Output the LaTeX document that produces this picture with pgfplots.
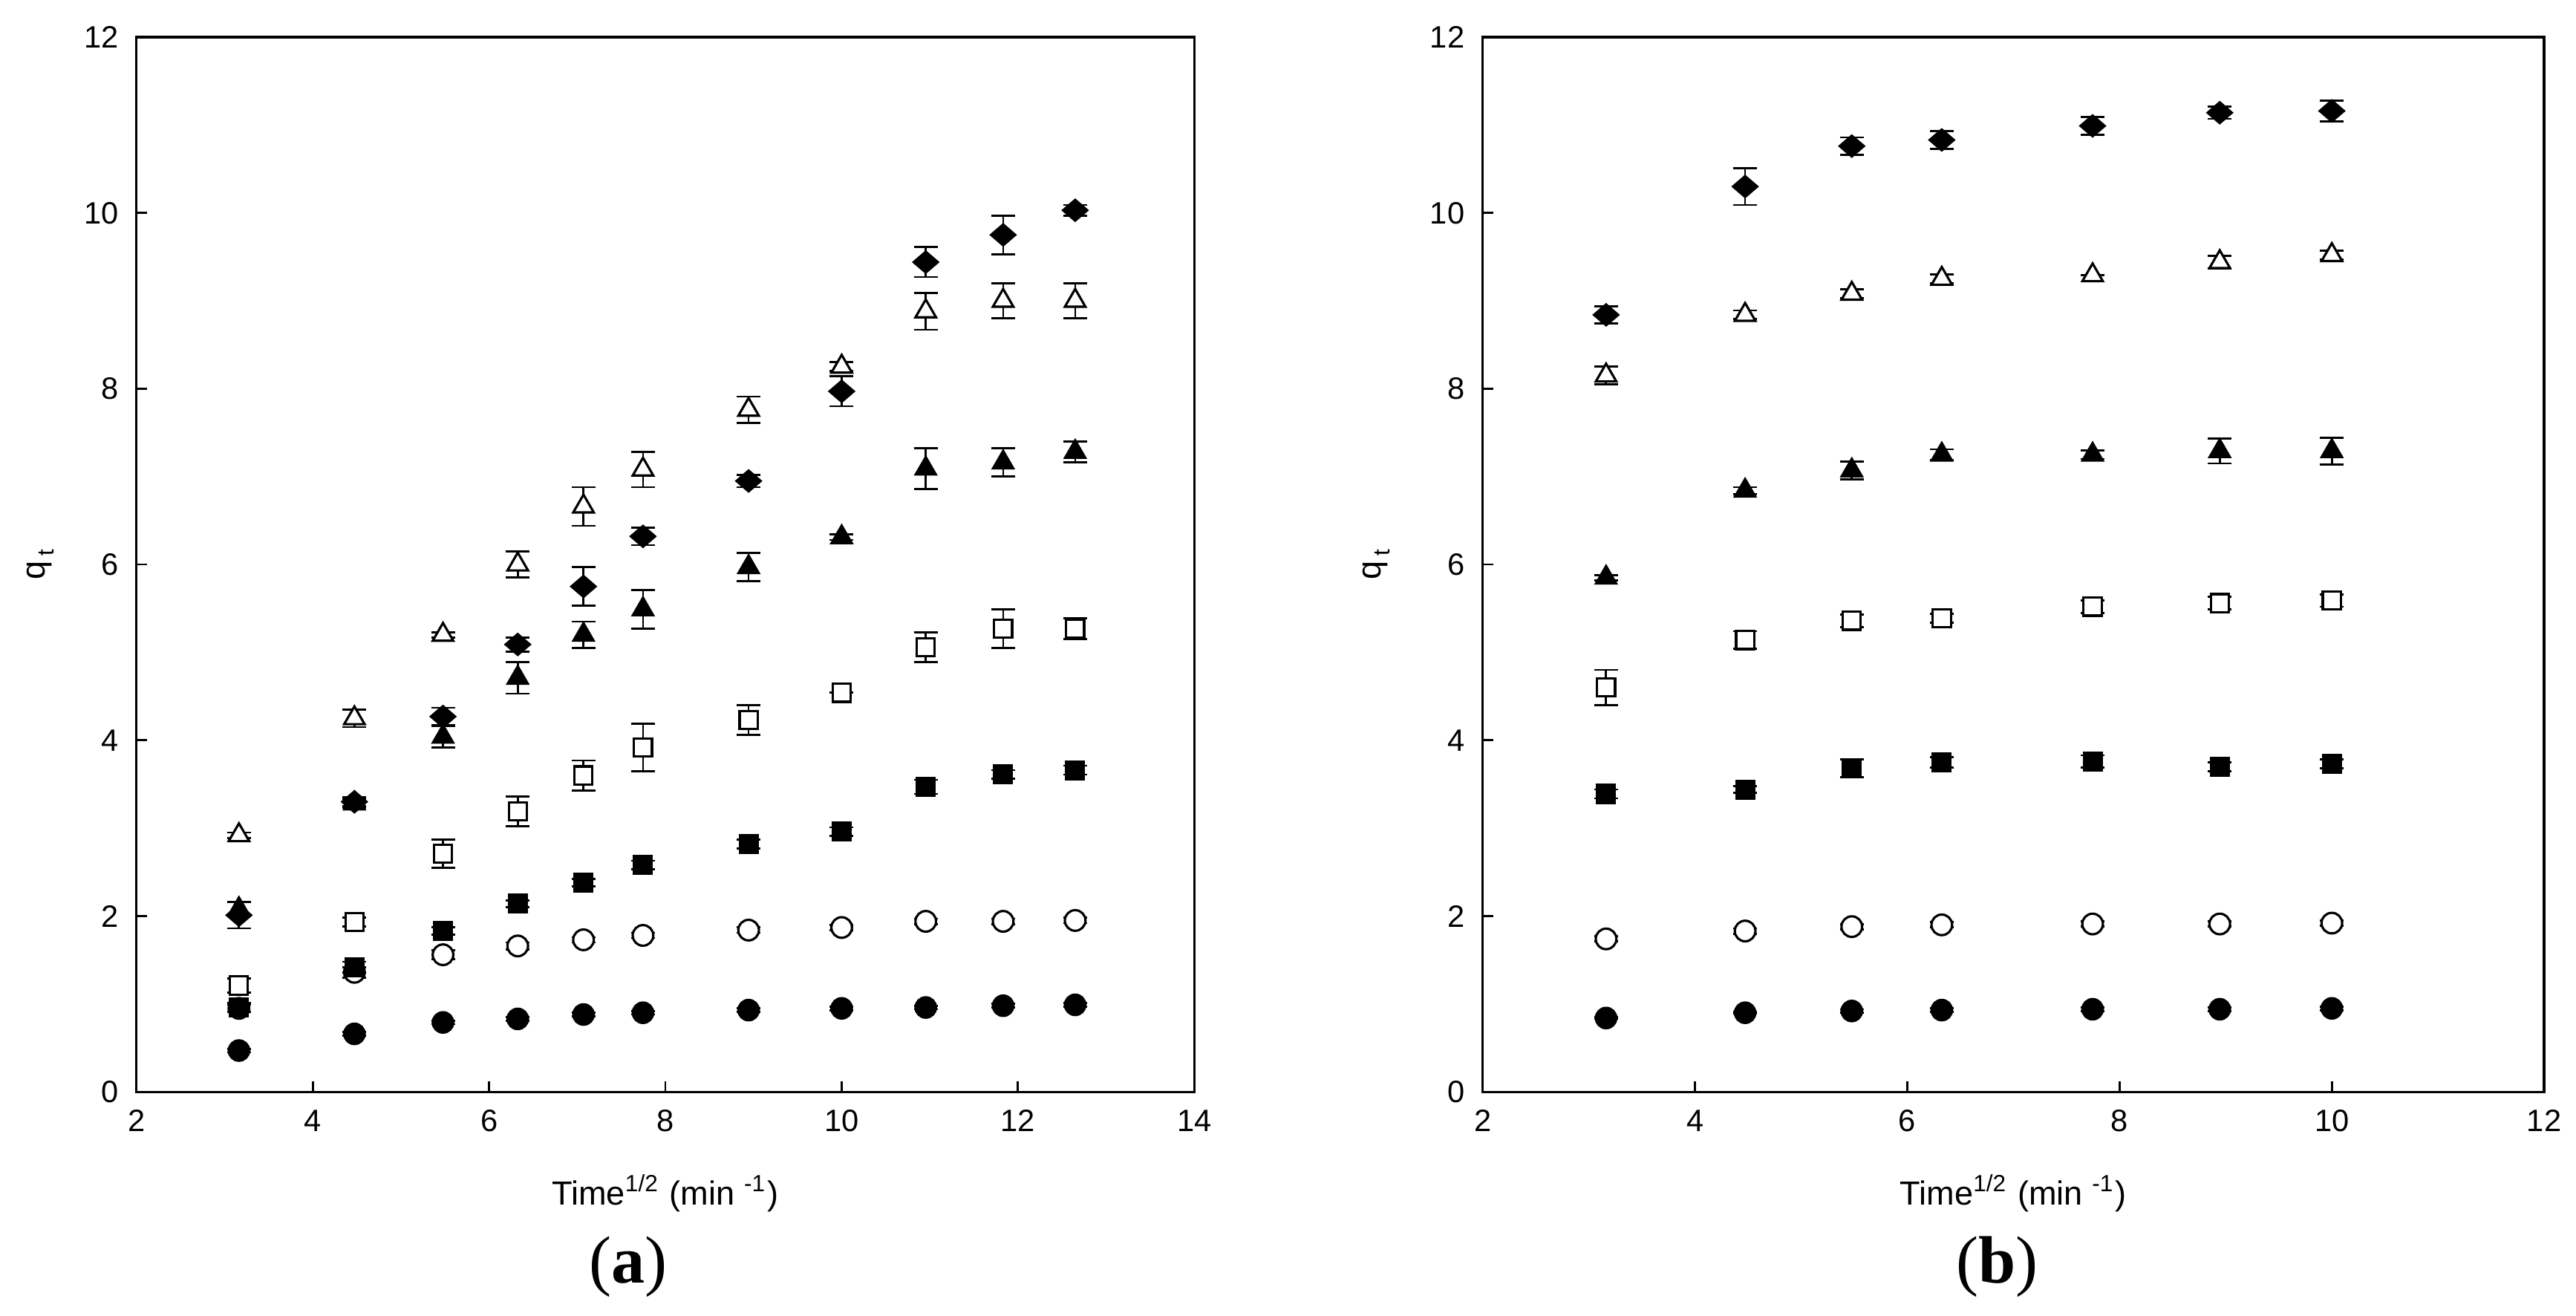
\documentclass[border=0pt]{standalone}
\usepackage{fontspec}
\setmainfont{Liberation Sans}
\newfontfamily\capfont{Liberation Serif}
\usepackage{pgfplots}
\usepackage{pgfplotstable}
\pgfplotsset{compat=1.18}

\pgfplotstableread{
x      fc   efc  oc   eoc  fs   efs  os   eos  ft   eft  fd    efd  ot   eot
3.162  0.47 0.02 0.95 0.04 0.96 0.05 1.21 0.08 2.08 0.08 2.01  0.15 2.92 0.03
4.472  0.66 0.02 1.36 0.06 1.42 0.06 1.93 0.05 3.28 0.05 3.30  0.05 4.25 0.10
5.477  0.79 0.02 1.56 0.05 1.83 0.04 2.71 0.16 4.04 0.12 4.27  0.10 5.20 0.03
6.325  0.83 0.02 1.66 0.04 2.14 0.04 3.19 0.17 4.71 0.18 5.09  0.08 6.00 0.15
7.071  0.88 0.02 1.73 0.03 2.38 0.04 3.60 0.17 5.20 0.15 5.75  0.22 6.66 0.22
7.746  0.90 0.02 1.78 0.03 2.58 0.05 3.92 0.27 5.49 0.22 6.32  0.10 7.08 0.20
8.944  0.93 0.02 1.84 0.03 2.82 0.05 4.23 0.17 5.97 0.16 6.95  0.07 7.76 0.15
10.000 0.95 0.02 1.87 0.03 2.96 0.05 4.54 0.00 6.31 0.03 7.97  0.17 8.25 0.05
10.954 0.96 0.02 1.94 0.03 3.47 0.08 5.06 0.17 7.09 0.23 9.44  0.17 8.88 0.21
11.832 0.98 0.02 1.94 0.03 3.61 0.05 5.27 0.22 7.16 0.16 9.75  0.22 9.00 0.20
12.649 0.99 0.02 1.95 0.03 3.66 0.05 5.27 0.12 7.28 0.12 10.03 0.06 9.00 0.20
}\dataA

\pgfplotstableread{
x      fc   efc  oc   eoc  fs   efs  os   eos  ft   eft  fd    efd  ot   eot
3.162  0.84 0.01 1.74 0.03 3.39 0.05 4.60 0.20 5.85 0.03 8.84  0.10 8.15 0.10
4.472  0.90 0.01 1.83 0.03 3.44 0.04 5.14 0.10 6.84 0.04 10.30 0.21 8.84 0.05
5.477  0.92 0.02 1.88 0.03 3.68 0.10 5.36 0.07 7.07 0.10 10.76 0.10 9.08 0.05
6.325  0.93 0.02 1.90 0.03 3.75 0.06 5.39 0.05 7.25 0.06 10.83 0.10 9.25 0.05
7.746  0.94 0.02 1.91 0.03 3.76 0.07 5.52 0.07 7.25 0.05 10.99 0.10 9.29 0.00
8.944  0.94 0.02 1.91 0.03 3.70 0.05 5.56 0.07 7.29 0.14 11.14 0.07 9.44 0.07
10.000 0.95 0.02 1.92 0.03 3.73 0.05 5.59 0.07 7.29 0.15 11.16 0.12 9.52 0.05
}\dataB

\pgfplotsset{
  common/.style={
    scale only axis, height=204.7pt, anchor=south west,
    ymin=0, ymax=12, ytick={0,2,...,12}, xmin=2,
    axis line style={line width=0.45pt, black},
    tick style={line width=0.4pt, black},
    major tick length=2pt, tick align=inside,
    xtick pos=bottom, ytick pos=left,
    tick label style={font=\fontsize{6}{7}\selectfont},
    label style={font=\fontsize{6.5}{8}\selectfont},
    /pgf/number format/assume math mode=true,
    xlabel={Time\textsuperscript{1/2} (min \textsuperscript{-1})},
    ylabel={q\,\raisebox{-0.5ex}{\fontsize{4.5}{5}\selectfont t}},
    xlabel style={at={(axis description cs:0.5,-0.096)}, anchor=center},
  },
  eb/.style={only marks, black,
    /pgfplots/error bars/y dir=both, /pgfplots/error bars/y explicit,
    /pgfplots/error bars/error bar style={line width=0.4pt, black},
    /pgfplots/error bars/error mark options={rotate=90, mark size=2.3pt, line width=0.4pt, black}},
  fc/.style={eb, mark=*, mark size=2pt, mark options={fill=black, line width=0.4pt}},
  oc/.style={eb, mark=*, mark size=2pt, mark options={fill=white, line width=0.45pt}},
  fs/.style={eb, mark=square*, mark size=1.75pt, mark options={fill=black, line width=0.4pt}},
  os/.style={eb, mark=square*, mark size=1.75pt, mark options={fill=white, line width=0.45pt}},
  ft/.style={eb, mark=triangle*, mark size=2.3pt, mark options={fill=black, line width=0.4pt}},
  fd/.style={eb, mark=diamond*, mark size=2.05pt, mark options={xscale=1.55, fill=black, line width=0.4pt}},
  ot/.style={eb, mark=triangle*, mark size=2.3pt, mark options={fill=white, line width=0.45pt}},
}

\begin{document}
\begin{tikzpicture}
\path[use as bounding box] (0,0) rectangle (500pt,255.3pt);

\begin{axis}[common, at={(26.5pt,43.4pt)}, width=205.3pt, xmax=14, xtick={2,4,...,14},
  ylabel style={at={(axis description cs:-0.091,0.5)}, anchor=center}]
  \addplot[fc] table[x=x, y=fc, y error=efc] {\dataA};
  \addplot[oc] table[x=x, y=oc, y error=eoc] {\dataA};
  \addplot[fs] table[x=x, y=fs, y error=efs] {\dataA};
  \addplot[os] table[x=x, y=os, y error=eos] {\dataA};
  \addplot[ft] table[x=x, y=ft, y error=eft] {\dataA};
  \addplot[fd] table[x=x, y=fd, y error=efd] {\dataA};
  \addplot[ot] table[x=x, y=ot, y error=eot] {\dataA};
\end{axis}

\begin{axis}[common, at={(287.8pt,43.4pt)}, width=206pt, xmax=12, xtick={2,4,...,12},
  ylabel style={at={(axis description cs:-0.10,0.5)}, anchor=center}]
  \addplot[fc] table[x=x, y=fc, y error=efc] {\dataB};
  \addplot[oc] table[x=x, y=oc, y error=eoc] {\dataB};
  \addplot[fs] table[x=x, y=fs, y error=efs] {\dataB};
  \addplot[os] table[x=x, y=os, y error=eos] {\dataB};
  \addplot[ft] table[x=x, y=ft, y error=eft] {\dataB};
  \addplot[fd] table[x=x, y=fd, y error=efd] {\dataB};
  \addplot[ot] table[x=x, y=ot, y error=eot] {\dataB};
\end{axis}

\node[font=\capfont\fontsize{13}{15}\selectfont] at (121.9pt,9.4pt) {(\textbf{a})};
\node[font=\capfont\fontsize{13}{15}\selectfont] at (387.7pt,9.4pt) {(\textbf{b})};
\end{tikzpicture}
\end{document}
